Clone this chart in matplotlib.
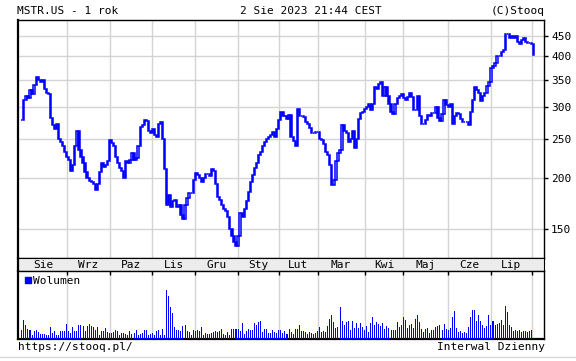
import matplotlib
matplotlib.use("Agg")
import matplotlib.pyplot as plt
import numpy as np
from matplotlib.lines import Line2D
from matplotlib.patches import Rectangle
from matplotlib.ticker import NullLocator

# daily closes, MSTR.US, 2022-08-02 .. 2023-08-02
CLOSE = [
    278, 312, 320, 316, 330, 322, 340, 355, 350, 345,
    350, 332, 325, 322, 282, 270, 265, 272, 250, 246,
    240, 232, 226, 221, 208, 216, 240, 262, 235, 225,
    218, 207, 200, 197, 195, 193, 187, 193, 207, 218,
    213, 215, 220, 248, 244, 240, 225, 218, 212, 208,
    200, 220, 218, 221, 230, 222, 224, 240, 268, 270,
    278, 276, 262, 258, 265, 255, 252, 272, 275, 250,
    210, 172, 182, 170, 175, 176, 170, 172, 162, 158,
    172, 178, 184, 184, 198, 206, 203, 200, 195, 200,
    205, 205, 202, 210, 208, 193, 180, 176, 172, 168,
    166, 160, 150, 144, 139, 136, 144, 164, 160, 168,
    175, 185, 195, 203, 212, 218, 228, 232, 240, 245,
    250, 252, 255, 260, 252, 265, 278, 292, 284, 285,
    280, 286, 252, 247, 240, 296, 285, 285, 283, 275,
    272, 266, 258, 258, 260, 260, 250, 248, 243, 232,
    228, 215, 192, 198, 220, 230, 235, 270, 262, 258,
    245, 250, 262, 237, 250, 280, 290, 292, 296, 300,
    305, 295, 305, 335, 332, 342, 345, 320, 335, 320,
    305, 292, 288, 305, 315, 320, 322, 315, 312, 318,
    325, 318, 295, 295, 320, 285, 272, 272, 278, 287,
    285, 290, 290, 300, 282, 276, 288, 312, 303, 300,
    305, 272, 285, 290, 288, 280, 275, 275, 275, 270,
    292, 312, 335, 330, 325, 310, 320, 325, 338, 345,
    374, 378, 385, 400, 400, 410, 415, 455, 455, 445,
    450, 445, 448, 435, 428, 438, 445, 435, 432, 432,
    428, 402,
]

# daily volume (arbitrary units)
VOLUME = [
    28, 58, 41, 31, 26, 13, 23, 26, 20, 15,
    15, 15, 11, 11, 35, 18, 23, 11, 11, 25,
    23, 23, 44, 25, 18, 35, 25, 23, 41, 41,
    38, 23, 40, 46, 38, 35, 28, 35, 11, 25,
    25, 33, 21, 18, 18, 21, 28, 23, 11, 18,
    18, 15, 11, 25, 16, 18, 28, 11, 16, 18,
    28, 28, 11, 15, 18, 13, 23, 28, 11, 31,
    13, 146, 128, 95, 77, 35, 28, 28, 23, 38,
    41, 25, 21, 11, 28, 25, 28, 25, 35, 11,
    18, 15, 16, 18, 21, 23, 21, 25, 31, 15,
    11, 20, 13, 31, 31, 31, 31, 25, 48, 16,
    23, 31, 28, 28, 48, 41, 51, 53, 20, 31,
    31, 18, 18, 28, 21, 18, 28,
    28, 18, 23, 15, 31, 21, 15, 31, 31,
    43, 25, 25, 21, 15, 21, 18, 15, 18, 23,
    35, 21, 23, 21, 38, 61, 71, 51, 33, 36,
    95, 53, 41, 51, 53, 28, 55, 33, 48, 32,
    48, 35, 28, 38, 21, 48, 65, 41, 51, 45,
    38, 48, 30, 40, 33, 28, 26, 26, 51,
    35, 41, 65, 56, 33, 41, 46, 33, 60, 71,
    50, 30, 21, 30, 33, 18, 26, 28, 36, 40,
    43, 28, 45, 30, 28, 32, 66, 85, 33, 21,
    25, 18, 21, 18, 35, 66, 88, 88, 53, 71,
    53, 41, 33, 38, 71, 43, 55, 43, 45, 48,
    56, 41, 98, 80, 41, 35, 25, 28, 25, 28,
    21, 23, 25, 21, 25, 28,
]

MONTH_STARTS = [22, 43, 64, 85, 106, 126, 145, 168, 187, 209, 230, 250]
MONTH_LABELS = ["Sie", "Wrz", "Paz", "Lis", "Gru", "Sty",
                "Lut", "Mar", "Kwi", "Maj", "Cze", "Lip"]
PRICE_TICKS = [150, 200, 250, 300, 350, 400, 450]

BLUE = "#0000ff"
GRID = "#d4d4d4"
FONT = "DejaVu Sans Mono"
W, H = 576, 361
XLIM = (-1.88, 256.0)


def fx(px):
    return px / W


def fy(py):
    return 1 - py / H


def panel(left, top, right, bottom):
    return fig.add_axes([fx(left), fy(bottom), fx(right) - fx(left), fy(top) - fy(bottom)])


plt.rcParams["font.family"] = [FONT]
fig = plt.figure(figsize=(5.76, 3.61), dpi=100)

ax = panel(18, 20, 544, 258.3)
band = panel(18, 258.3, 544, 270.7)
axv = panel(18, 270.7, 544, 339)

# candles (open taken as previous close)
close = np.array(CLOSE, dtype=float)
opn = np.r_[close[0], close[:-1]]
x = np.arange(len(close))
up = close >= opn
ax.bar(x[up], close[up] - opn[up], bottom=opn[up], width=0.6,
       facecolor="white", edgecolor=BLUE, linewidth=1.1, zorder=3)
ax.bar(x[~up], opn[~up] - close[~up], bottom=close[~up], width=0.6,
       facecolor=BLUE, edgecolor=BLUE, linewidth=1.1, zorder=3)

ax.set_yscale("log")
ax.set_ylim(126.6, 492)
ax.set_xlim(*XLIM)
for m in MONTH_STARTS:
    ax.axvline(m, color=GRID, lw=1, zorder=0)
for p in PRICE_TICKS:
    ax.axhline(p, color=GRID, lw=1, zorder=0)
ax.yaxis.tick_right()
ax.set_yticks(PRICE_TICKS)
ax.set_yticklabels([str(p) for p in PRICE_TICKS])
ax.yaxis.set_minor_locator(NullLocator())
ax.set_xticks([])
ax.tick_params(axis="y", direction="out", length=3, width=1, pad=2, labelsize=8)
for s in ax.spines.values():
    s.set_color("black")
    s.set_linewidth(1)
ax.spines["left"].set_linewidth(1.6)

# month band
band.set_facecolor("#ececec")
band.set_xlim(*XLIM)
band.set_ylim(0, 1)
band.set_xticks([])
band.set_yticks([])
edges = [-1] + MONTH_STARTS
for a, b, lab in zip(edges[:-1], edges[1:], MONTH_LABELS):
    band.text((a + b) / 2, 0.45, lab, ha="center", va="center", fontsize=8)
for s in band.spines.values():
    s.set_color("black")
    s.set_linewidth(0.8)
band.spines["left"].set_linewidth(1.6)

# volume
axv.bar(np.arange(len(VOLUME)), VOLUME, width=0.5, color=BLUE, zorder=3)
axv.set_xlim(*XLIM)
axv.set_ylim(0, 204)
for m in MONTH_STARTS:
    axv.axvline(m, color=GRID, lw=1, zorder=0)
axv.set_yticks([])
axv.xaxis.set_ticks_position("top")
axv.set_xticks(MONTH_STARTS)
axv.tick_params(axis="x", direction="in", length=3, width=1, labeltop=False, labelbottom=False)
for s in axv.spines.values():
    s.set_color("black")
    s.set_linewidth(1)
axv.spines["left"].set_linewidth(1.6)
axv.spines["bottom"].set_linewidth(1.6)

fig.add_artist(Rectangle((fx(25), fy(283)), 5.7 / W, 6 / H,
                         transform=fig.transFigure, color=BLUE))
fig.text(fx(33), fy(280.5), "Wolumen", va="center", fontsize=8)

# header and footer
fig.text(fx(17), fy(10.5), "MSTR.US - 1 rok", va="center", fontsize=8)
fig.text(fx(240), fy(10.5), "2 Sie 2023 21:44 CEST", va="center", fontsize=8)
fig.text(fx(545), fy(10.5), "(C)Stooq", va="center", ha="right", fontsize=8)
fig.text(fx(18), fy(347.5), "https://stooq.pl/", va="center", fontsize=8)
fig.text(fx(545), fy(347.5), "Interwal Dzienny", va="center", ha="right", fontsize=8)
fig.add_artist(Line2D([0, 1], [fy(357), fy(357)], color="#d8d8d8", lw=1))

fig.savefig("out.png", dpi=100)
